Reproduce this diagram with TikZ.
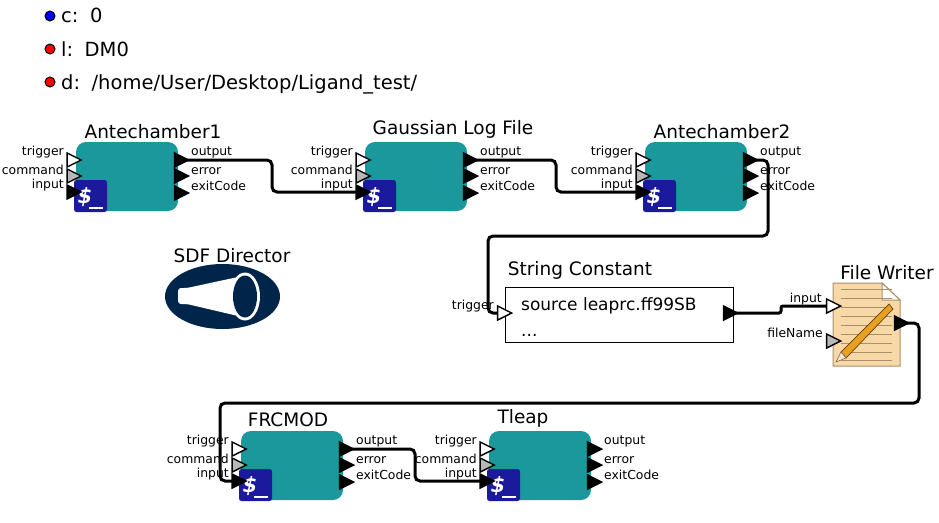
\documentclass[tikz,border=0pt]{standalone}
\usepackage{fontspec}
\setmainfont{DejaVu Sans}
\usetikzlibrary{shapes.geometric}
\definecolor{tealbox}{HTML}{1A989B}
\definecolor{termblue}{HTML}{1B1A9C}
\definecolor{navy}{HTML}{00254A}
\definecolor{paper}{HTML}{F9D8A8}
\definecolor{paperline}{HTML}{A8906C}
\definecolor{pencil}{HTML}{E8A020}
\tikzset{
  portnode/.style={draw=black,line width=1.4pt,isosceles triangle,isosceles triangle stretches,
    minimum width=14pt,minimum height=14pt,inner sep=0pt},
  portin/.style={portnode,fill=white},
  portgrey/.style={portnode,fill=black!28},
  portout/.style={portnode,fill=black},
  portlabel/.style={font=\fontsize{12.4}{14}\selectfont,inner sep=0pt},
  titletext/.style={font=\fontsize{18.5}{22}\selectfont,inner sep=0pt,anchor=base},
  paramtext/.style={font=\fontsize{19.5}{22}\selectfont,inner sep=0pt,anchor=base west},
  parambullet/.style={circle,draw=black,line width=1pt,minimum size=10pt,inner sep=0pt},
  wire/.style={line width=3pt,rounded corners=5pt},
  actorbox/.style={fill=tealbox,rounded corners=10pt},
}
\begin{document}
\begin{tikzpicture}[x=1pt,y=-1pt]
\useasboundingbox (0,0) rectangle (939,522);

% parametres

\node[parambullet,fill=blue] (bc) at (50,16) {};
\node[parambullet,fill=red] (bl) at (50,49) {};
\node[parambullet,fill=red] (bd) at (50,82) {};
\node[paramtext] (tc) at (61,23) {c:\, 0};
\node[paramtext] (tl) at (61,56) {l:\, DM0};
\node[paramtext] (td) at (61,89) {d:\, /home/User/Desktop/Ligand\_test/};

% acteurs

\foreach \name/\x/\y/\tx/\ty/\title in {
  ante1/76/142/153/138/Antechamber1,
  gauss/365/142/453/134/Gaussian Log File,
  ante2/645/142/722/138/Antechamber2,
  frcmod/241/431/288/426/FRCMOD,
  tleap/489/431/523/423/Tleap}
{
  \fill[actorbox] (\x,\y) rectangle ++(102,69);
  \node[titletext] (\name-title) at (\tx,\ty) {\title};
  \node[portlabel,anchor=base east] (\name-ltrig) at (\x-12,\y+13) {trigger};
  \node[portlabel,anchor=base east] (\name-lcmd) at (\x-12,\y+32) {command};
  \node[portlabel,anchor=base east] (\name-linp) at (\x-12,\y+46) {input};
  \node[portlabel,anchor=base west] (\name-lout) at (\x+115,\y+13) {output};
  \node[portlabel,anchor=base west] (\name-lerr) at (\x+115,\y+32) {error};
  \node[portlabel,anchor=base west] (\name-lexit) at (\x+115,\y+48) {exitCode};
  % icone terminal
  \fill[termblue,rounded corners=2.5pt] (\x-2,\y+38) rectangle ++(33,32);
  \node[text=white,inner sep=0pt,font=\fontsize{21}{21}\selectfont\bfseries\itshape] (\name-dollar) at (\x+9,\y+55) {\$};
  \draw[white,line width=1.6pt] (\x+13,\y+66) -- ++(14,0);
  % ports
  \node[portin] (\name-trig) at (\x-4.5,\y+18) {};
  \node[portgrey] (\name-cmd) at (\x-4.5,\y+34) {};
  \node[portout] (\name-inp) at (\x-4.5,\y+50) {};
  \node[portout] (\name-out) at (\x+103,\y+18) {};
  \node[portout] (\name-err) at (\x+103,\y+34) {};
  \node[portout] (\name-exit) at (\x+103,\y+51) {};
}

% directeur

\node[titletext] (dirtitle) at (232,262) {SDF Director};
\fill[navy] (222.5,296.5) ellipse (57.5 and 32.5);
\fill[white,rounded corners=3pt] (178,288) -- (187,288) -- (238,277) -- (238,316) -- (187,304) -- (178,304) -- cycle;
\fill[white] (245,296.5) ellipse (15 and 24);
\fill[navy] (245,296.5) ellipse (12 and 21);

% constante

\node[titletext] (sctitle) at (580,275) {String Constant};
\draw[line width=1pt,fill=white] (505,287) rectangle (733,342);
\node[inner sep=0pt,anchor=base west,font=\fontsize{17}{20}\selectfont] (sctext) at (521,310) {source leaprc.ff99SB};
\node[inner sep=0pt,anchor=base west,font=\fontsize{17}{20}\selectfont] (scdots) at (521,336) {...};
\node[portlabel,anchor=base east] (lsctrig) at (494,309) {trigger};
\node[portin] (sctrig) at (502,313) {};
\node[portout] (scout) at (728,313) {};

% fichier

\node[titletext] (fwtitle) at (887,279) {File Writer};
\draw[paperline,line width=1pt,fill=paper] (833,283) -- (882,283) -- (900,300) -- (900,366) -- (833,366) -- cycle;
\draw[paperline,line width=1pt,fill=white] (882,283) -- (900,300) -- (882,300) -- cycle;
\foreach \ly in {289,298,307,316,325,334,343,352,360}
  \draw[paperline,line width=1pt] (841,\ly) -- (892,\ly);
\draw[black!60!pencil,line width=.7pt,fill=pencil] (889,304) -- (893,309) -- (846,358) -- (841,352) -- cycle;
\draw[black!60,fill=paper!70!white,line width=.5pt] (841,352) -- (846,358) -- (836,362) -- cycle;
\node[portlabel,anchor=base east] (lfwin) at (822,302) {input};
\node[portlabel,anchor=base east] (lfwname) at (823,337) {fileName};
\node[portin] (fwin) at (831,306) {};
\node[portgrey] (fwname) at (831,341) {};
\node[portout] (fwout) at (899,323) {};

% fils

\draw[wire] (ante1-out.center) -- (272,160) -- (272,192) -- (gauss-inp.center);
\draw[wire] (gauss-out.center) -- (556,160) -- (556,192) -- (ante2-inp.center);
\draw[wire] (ante2-out.center) -- (768,160) -- (768,236) -- (488,236) -- (488,313) -- (sctrig.west);
\draw[wire,rounded corners=2pt] (scout.center) -- (781,313) -- (781,306) -- (fwin.west);
\draw[wire] (fwout.center) -- (919,323) -- (919,403) -- (220,403) -- (220,481) -- (frcmod-inp.center);
\draw[wire] (frcmod-out.center) -- (415,449) -- (415,481) -- (tleap-inp.center);

\end{tikzpicture}
\end{document}
